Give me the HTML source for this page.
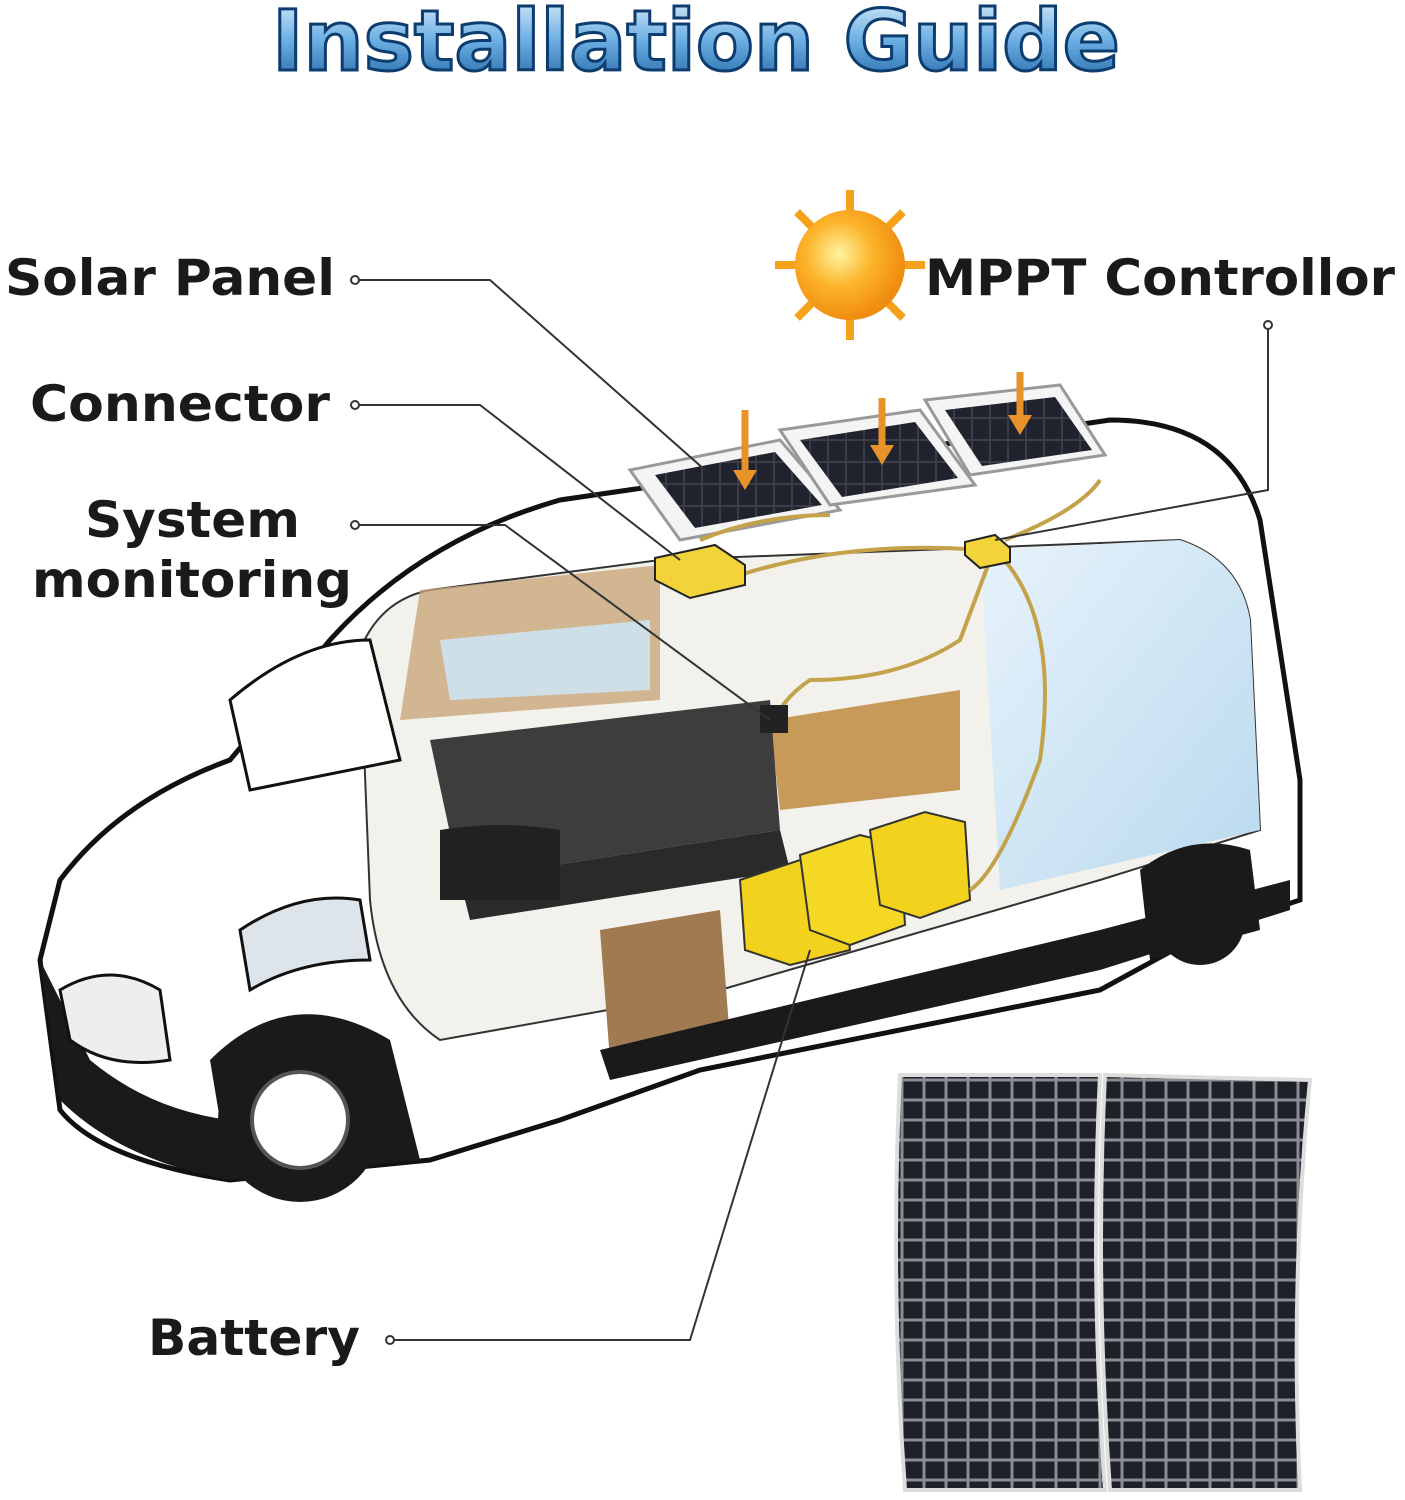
<!DOCTYPE html>
<html><head><meta charset="utf-8"><style>
body{margin:0;background:#fff;width:1405px;height:1500px;overflow:hidden;position:relative;font-family:"DejaVu Sans",sans-serif}
</style></head><body>
<svg width="1405" height="1500" style="position:absolute;left:0;top:0">
<defs>
<linearGradient id="tg" x1="0" y1="0" x2="0" y2="1"><stop offset="0" stop-color="#e6f2fc"/><stop offset="0.5" stop-color="#6aaee3"/><stop offset="1" stop-color="#1d5f9e"/></linearGradient>
<radialGradient id="sun" cx="0.4" cy="0.4" r="0.6"><stop offset="0" stop-color="#fff3a0"/><stop offset="0.5" stop-color="#fcb42a"/><stop offset="1" stop-color="#f08c10"/></radialGradient>
<pattern id="cells" width="18" height="22" patternUnits="userSpaceOnUse"><rect width="18" height="22" fill="#3a3d48"/><rect x="1" y="1" width="16" height="20" fill="#20232d"/></pattern>
<pattern id="cells2" width="22" height="20" patternUnits="userSpaceOnUse"><rect width="22" height="20" fill="#8a8d94"/><rect x="1.5" y="1.5" width="19" height="17" fill="#1e2128"/></pattern>
<linearGradient id="glass" x1="0" y1="0" x2="1" y2="1"><stop offset="0" stop-color="#e8f3fb"/><stop offset="1" stop-color="#b9d9ee"/></linearGradient>
</defs>
<text x="272" y="70" textLength="848" lengthAdjust="spacingAndGlyphs" font-family="DejaVu Sans" font-weight="bold" font-size="84" fill="url(#tg)" stroke="#0d3d6e" stroke-width="3">Installation Guide</text>
<g stroke="#f5a21a" stroke-width="8">
<line x1="850" y1="190" x2="850" y2="340"/><line x1="775" y1="265" x2="925" y2="265"/>
<line x1="797" y1="212" x2="903" y2="318"/><line x1="903" y1="212" x2="797" y2="318"/>
</g>
<circle cx="850" cy="265" r="55" fill="url(#sun)"/>
<path d="M40 960 L60 880 Q120 800 230 760 L330 640 Q420 540 560 500 L1110 420 Q1230 420 1260 520 L1300 780 L1300 900 L1210 930 L1100 990 L700 1070 L560 1120 L430 1160 L230 1180 Q100 1160 60 1110 Z" fill="#fff" stroke="#111" stroke-width="5"/>
<path d="M360 650 Q380 600 430 590 L660 560 L1180 540 Q1240 560 1250 620 L1260 830 L1100 880 L720 990 L440 1040 Q380 1000 370 900 Z" fill="#f3f1ec" stroke="#333" stroke-width="2"/>
<path d="M980 550 L1180 540 Q1240 560 1250 620 L1260 830 L1000 890 Z" fill="url(#glass)"/>
<path d="M420 590 L660 565 L660 700 L400 720 Z" fill="#c9a67a" opacity="0.8"/>
<path d="M440 640 L650 620 L650 690 L450 700 Z" fill="#cfdfe8"/>
<path d="M770 720 L960 690 L960 790 L780 810 Z" fill="#c89a5a"/>
<path d="M430 740 L770 700 L780 830 L460 880 Z" fill="#3d3d3d"/>
<path d="M460 880 L780 830 L790 870 L470 920 Z" fill="#2a2a2a"/>
<path d="M600 930 L720 910 L730 1040 L610 1060 Z" fill="#a07a50"/>
<g stroke="#333" stroke-width="2">
<path d="M740 880 L800 860 L840 870 L850 950 L790 965 L745 950 Z" fill="#f2d21c"/>
<path d="M800 855 L860 835 L900 845 L905 925 L850 945 L810 930 Z" fill="#f5d823"/>
<path d="M870 830 L925 812 L965 822 L970 900 L920 918 L880 905 Z" fill="#f2d21c"/>
</g>
<path d="M40 960 L60 1100 Q120 1160 230 1180 L230 1120 Q150 1110 90 1060 Z" fill="#1a1a1a"/>
<path d="M60 990 Q110 960 160 990 L170 1060 Q110 1070 70 1040 Z" fill="#eee" stroke="#111" stroke-width="3"/>
<path d="M240 930 Q300 890 360 900 L370 960 Q300 960 250 990 Z" fill="#dde4ea" stroke="#111" stroke-width="3"/>
<path d="M230 700 Q300 640 370 640 L400 760 L250 790 Z" fill="#fff" stroke="#111" stroke-width="3"/>
<path d="M440 830 Q500 820 560 830 L560 900 L440 900 Z" fill="#222"/>
<path d="M600 1050 L1100 930 L1290 880 L1290 910 L1100 970 L610 1080 Z" fill="#1a1a1a"/>
<path d="M210 1060 Q290 980 390 1040 L420 1160 L230 1180 Z" fill="#1a1a1a"/>
<circle cx="300" cy="1120" r="82" fill="#1a1a1a"/><circle cx="300" cy="1120" r="48" fill="#fff" stroke="#555" stroke-width="4"/>
<path d="M1140 870 Q1190 830 1250 850 L1260 930 L1150 960 Z" fill="#1a1a1a"/>
<circle cx="1200" cy="920" r="45" fill="#1a1a1a"/>
<g stroke="#999" stroke-width="3">
<path d="M630 470 L780 440 L840 510 L680 540 Z" fill="#f4f4f4"/>
<path d="M780 430 L920 410 L975 485 L830 505 Z" fill="#f4f4f4"/>
<path d="M925 400 L1060 385 L1105 455 L970 475 Z" fill="#f4f4f4"/>
</g>
<path d="M655 475 L775 452 L822 505 L695 528 Z" fill="url(#cells)"/>
<path d="M800 440 L915 422 L958 478 L842 497 Z" fill="url(#cells)"/>
<path d="M945 410 L1055 397 L1092 450 L982 466 Z" fill="url(#cells)"/>
<g stroke="#e8922a" stroke-width="7">
<line x1="745" y1="410" x2="745" y2="475"/><line x1="882" y1="398" x2="882" y2="450"/><line x1="1020" y1="372" x2="1020" y2="420"/>
</g>
<polygon points="733,470 757,470 745,490" fill="#e8922a"/><polygon points="870,445 894,445 882,465" fill="#e8922a"/><polygon points="1008,415 1032,415 1020,435" fill="#e8922a"/>
<g stroke="#c4a24a" stroke-width="4" fill="none">
<path d="M740 575 Q850 540 980 550"/><path d="M700 540 Q760 515 830 515"/><path d="M1000 555 Q1060 620 1040 760 Q1000 870 970 890"/><path d="M990 560 L960 640 Q900 680 810 680 Q780 700 770 730"/><path d="M1100 480 Q1080 510 1005 540"/>
</g>
<path d="M655 558 L715 545 L745 565 L745 585 L690 598 L655 580 Z" fill="#f3d33a" stroke="#222" stroke-width="2"/>
<path d="M965 542 L995 535 L1010 548 L1010 562 L980 568 L965 555 Z" fill="#f3d33a" stroke="#222" stroke-width="2"/>
<rect x="760" y="705" width="28" height="28" fill="#222"/>
<g stroke="#333" stroke-width="2" fill="none">
<path d="M355 280 L490 280 L705 470"/><path d="M355 405 L480 405 L680 560"/><path d="M355 525 L505 525 L770 720"/><path d="M1268 325 L1268 490 L995 540"/><path d="M390 1340 L690 1340 L810 950"/>
</g>
<g fill="#fff" stroke="#333" stroke-width="2"><circle cx="355" cy="280" r="4"/><circle cx="355" cy="405" r="4"/><circle cx="355" cy="525" r="4"/><circle cx="1268" cy="325" r="4"/><circle cx="390" cy="1340" r="4"/></g>
<g stroke="#ddd" stroke-width="4">
<path d="M900 1075 L1100 1075 Q1090 1280 1105 1490 L905 1490 Q890 1280 900 1075 Z" fill="url(#cells2)"/>
<path d="M1105 1075 L1310 1080 Q1290 1280 1300 1490 L1110 1490 Q1095 1280 1105 1075 Z" fill="url(#cells2)"/>
</g>
<g font-family="DejaVu Sans" font-weight="bold" font-size="50" fill="#1a1a1a">
<text x="5" y="295" textLength="330" lengthAdjust="spacingAndGlyphs">Solar Panel</text>
<text x="30" y="421" textLength="300" lengthAdjust="spacingAndGlyphs">Connector</text>
<text x="85" y="537" textLength="215" lengthAdjust="spacingAndGlyphs">System</text>
<text x="32" y="597" textLength="320" lengthAdjust="spacingAndGlyphs">monitoring</text>
<text x="925" y="295" textLength="470" lengthAdjust="spacingAndGlyphs">MPPT Controllor</text>
<text x="148" y="1355" textLength="212" lengthAdjust="spacingAndGlyphs">Battery</text>
</g>
</svg>
</body></html>
